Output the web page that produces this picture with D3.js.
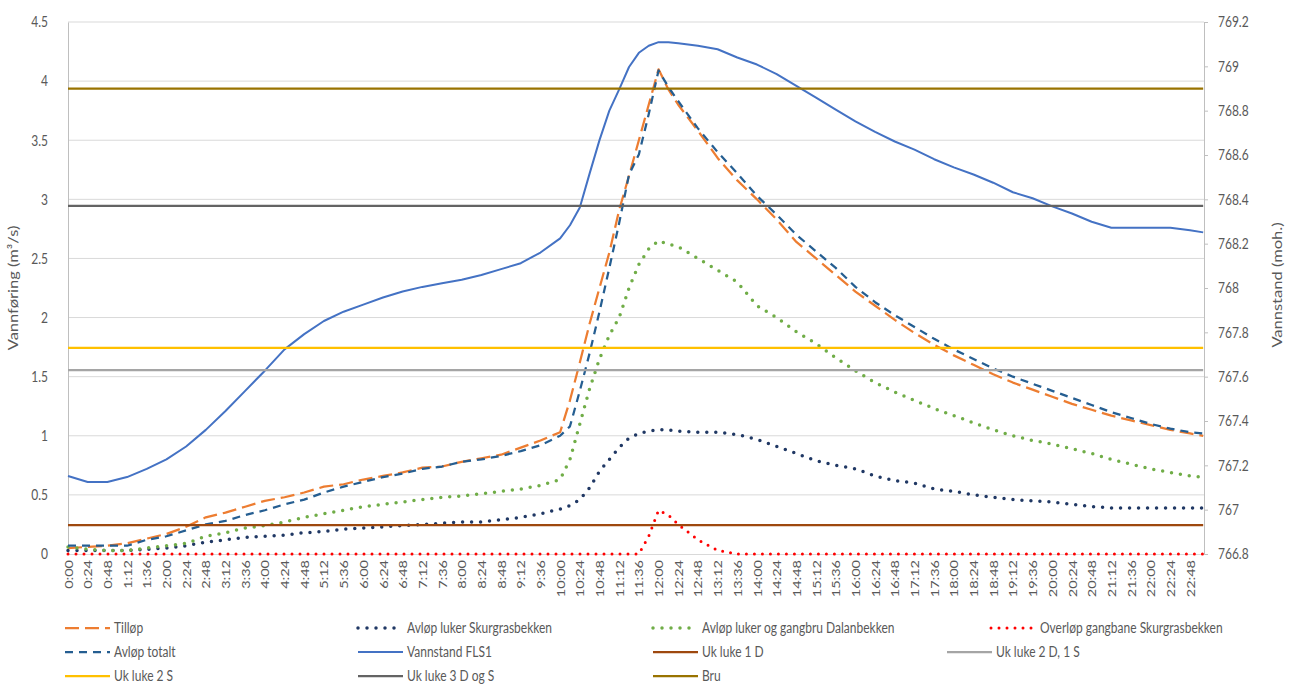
<!DOCTYPE html>
<html>
<head>
<meta charset="utf-8">
<script src="https://cdn.jsdelivr.net/npm/d3@7"></script>
<style>
  body { margin: 0; background: #fff; }
  text { font-family: Lato, "Open Sans", sans-serif; fill: #595959; }
</style>
</head>
<body>
<svg id="chart" width="1292" height="693"></svg>
<script>
// Sample times (H:MM); 12-minute steps around the flood peak, 24 minutes elsewhere
const times = ["0:00","0:24","0:48","1:12","1:36","2:00","2:24","2:48","3:12","3:36",
  "4:00","4:24","4:48","5:12","5:36","6:00","6:24","6:48","7:12","7:36","8:00","8:24",
  "8:48","9:12","9:36","10:00","10:12","10:24","10:36","10:48","11:00","11:12","11:24",
  "11:36","11:48","12:00","12:12","12:24","12:48","13:12","13:36","14:00","14:24","14:48",
  "15:12","15:36","16:00","16:24","16:48","17:12","17:36","18:00","18:24","18:48","19:12",
  "19:36","20:00","20:24","20:48","21:12","21:36","22:00","22:24","22:48","23:04"];

// Discharge series (m³/s)
const tillop = [0.05,0.06,0.07,0.09,0.13,0.17,0.23,0.31,0.35,0.40,
  0.45,0.48,0.52,0.57,0.59,0.63,0.66,0.69,0.73,0.74,0.78,0.81,
  0.84,0.90,0.96,1.03,1.30,1.62,1.95,2.25,2.55,2.91,3.20,
  3.50,3.80,4.10,3.93,3.80,3.58,3.35,3.16,3.00,2.83,2.64,
  2.50,2.36,2.22,2.10,1.98,1.87,1.77,1.68,1.60,1.52,1.45,
  1.39,1.33,1.27,1.22,1.17,1.13,1.09,1.05,1.02,1.00];

const avlopSkurgras = [0.03,0.03,0.03,0.03,0.04,0.05,0.07,0.10,0.12,0.14,
  0.15,0.16,0.18,0.19,0.21,0.22,0.23,0.24,0.25,0.26,0.27,0.27,
  0.29,0.31,0.34,0.38,0.41,0.46,0.56,0.70,0.80,0.90,0.98,
  1.02,1.04,1.05,1.05,1.04,1.03,1.03,1.01,0.97,0.91,0.85,
  0.79,0.75,0.72,0.66,0.62,0.60,0.55,0.53,0.50,0.48,0.46,
  0.45,0.44,0.42,0.40,0.39,0.39,0.39,0.39,0.39,0.39];

const avlopDalan = [0.06,0.04,0.03,0.03,0.05,0.07,0.09,0.15,0.18,0.22,
  0.24,0.27,0.31,0.34,0.37,0.40,0.42,0.44,0.46,0.48,0.49,0.51,
  0.53,0.55,0.58,0.63,0.80,1.10,1.40,1.65,1.85,2.00,2.25,
  2.45,2.58,2.65,2.62,2.60,2.50,2.40,2.30,2.10,2.00,1.88,
  1.78,1.66,1.55,1.45,1.37,1.30,1.23,1.17,1.11,1.05,1.00,
  0.96,0.93,0.89,0.85,0.80,0.76,0.72,0.69,0.66,0.65];

const overlopSkurgras = [0,0,0,0,0,0,0,0,0,0,
  0,0,0,0,0,0,0,0,0,0,0,0,
  0,0,0,0,0,0,0,0,0,0,0,
  0,0.15,0.37,0.33,0.25,0.12,0.03,0,0,0,0,
  0,0,0,0,0,0,0,0,0,0,0,
  0,0,0,0,0,0,0,0,0,0];

const avlopTotalt = [0.07,0.07,0.07,0.07,0.12,0.15,0.20,0.25,0.28,0.33,
  0.37,0.42,0.46,0.52,0.57,0.61,0.65,0.68,0.72,0.74,0.78,0.80,
  0.83,0.87,0.92,1.00,1.08,1.38,1.70,2.05,2.42,2.80,3.21,
  3.38,3.72,4.09,3.95,3.83,3.60,3.40,3.22,3.03,2.87,2.70,
  2.56,2.42,2.26,2.13,2.02,1.92,1.82,1.73,1.65,1.57,1.50,
  1.44,1.38,1.32,1.26,1.20,1.15,1.10,1.06,1.03,1.02];

// Water level at FLS1 (moh.)
const vannstandFLS1 = [767.152,767.125,767.125,767.147,767.184,767.227,767.285,767.360,767.445,767.536,
  767.627,767.723,767.792,767.851,767.893,767.925,767.957,767.984,768.005,768.021,768.037,768.059,
  768.085,768.112,768.160,768.224,768.283,768.363,768.517,768.667,768.800,768.896,768.997,
  769.061,769.093,769.109,769.109,769.104,769.093,769.077,769.040,769.008,768.965,768.912,
  768.859,768.805,768.752,768.704,768.661,768.624,768.581,768.544,768.512,768.475,768.432,
  768.405,768.368,768.336,768.299,768.272,768.272,768.272,768.272,768.261,768.251];

// Reference levels (moh.)
const ukLuke1D = 766.93;
const ukLuke2D1S = 767.63;
const ukLuke2S = 767.73;
const ukLuke3DogS = 768.37;
const bru = 768.90;

// Axis ticks
const leftTicks = [0,0.5,1,1.5,2,2.5,3,3.5,4,4.5];
const rightTicks = [766.8,767,767.2,767.4,767.6,767.8,768,768.2,768.4,768.6,768.8,769,769.2];
const xTickMinutes = d3.range(0, 1369, 24);

const toMin = s => { const [h, m] = s.split(":").map(Number); return h * 60 + m; };
const fmtTime = m => Math.floor(m / 60) + ":" + String(m % 60).padStart(2, "0");
const mins = times.map(toMin);

// Text is drawn slightly condensed (narrow glyphs, tall letterforms)
const SX = 0.8;

const svg = d3.select("#chart");
const plot = { left: 68, right: 1204, top: 22, bottom: 554 };

const x = d3.scaleLinear().domain([0, 1385]).range([plot.left, plot.right]);
const yL = d3.scaleLinear().domain([0, 4.5]).range([plot.bottom, plot.top]);
const yR = d3.scaleLinear().domain([766.8, 769.2]).range([plot.bottom, plot.top]);

// Horizontal gridlines
svg.append("g").selectAll("line").data(leftTicks.slice(1)).join("line")
  .attr("x1", plot.left).attr("x2", plot.right)
  .attr("y1", d => yL(d)).attr("y2", d => yL(d))
  .attr("stroke", "#d9d9d9").attr("stroke-width", 1);

// Left axis
const gL = svg.append("g").attr("transform", `translate(${plot.left},0)`)
  .call(d3.axisLeft(yL).tickValues(leftTicks).tickSize(0).tickPadding(20)
    .tickFormat(d => String(+d.toFixed(1))));
gL.select(".domain").attr("stroke", "#bfbfbf");
gL.selectAll("text").attr("font-size", 15).attr("fill", "#595959")
  .attr("x", -20 / SX).attr("transform", `scale(${SX},1)`);

// Right axis
const gR = svg.append("g").attr("transform", `translate(${plot.right},0)`)
  .call(d3.axisRight(yR).tickValues(rightTicks).tickSize(4).tickPadding(10)
    .tickFormat(d => String(+d.toFixed(1))));
gR.select(".domain").attr("stroke", "#bfbfbf");
gR.selectAll(".tick line").attr("stroke", "#bfbfbf");
gR.selectAll("text").attr("font-size", 15).attr("fill", "#595959")
  .attr("x", 14 / SX).attr("transform", `scale(${SX},1)`);

// Bottom axis: rotated time labels
const gX = svg.append("g").attr("transform", `translate(0,${plot.bottom})`)
  .call(d3.axisBottom(x).tickValues(xTickMinutes).tickSize(0).tickFormat(fmtTime));
gX.select(".domain").attr("stroke", "#d9d9d9");
gX.selectAll("text")
  .attr("font-size", 14.5).attr("fill", "#595959")
  .attr("text-anchor", "end")
  .attr("transform", `scale(${SX},1) rotate(-90)`)
  .attr("x", -6).attr("y", 0).attr("dy", "0.35em");

// Axis titles
svg.append("text").attr("transform", `translate(18,288) scale(${SX},1) rotate(-90)`)
  .attr("text-anchor", "middle").attr("font-size", 16.5).text("Vannføring (m³/s)");
svg.append("text").attr("transform", `translate(1282,285) scale(${SX},1) rotate(-90)`)
  .attr("text-anchor", "middle").attr("font-size", 16.5).text("Vannstand (moh.)");

// Series styling
const series = [
  { name: "Tilløp", values: tillop, axis: "L", color: "#ed7d31", width: 2.25, dash: "14 6", cap: "butt" },
  { name: "Avløp luker Skurgrasbekken", values: avlopSkurgras, axis: "L", color: "#203864", width: 3.5, dash: "0 9", cap: "round" },
  { name: "Avløp luker og gangbru Dalanbekken", values: avlopDalan, axis: "L", color: "#70ad47", width: 3.5, dash: "0 9", cap: "round" },
  { name: "Overløp gangbane Skurgrasbekken", values: overlopSkurgras, axis: "L", color: "#ff0000", width: 3, dash: "0 8", cap: "round" },
  { name: "Avløp totalt", values: avlopTotalt, axis: "L", color: "#255e91", width: 2.25, dash: "8 6", cap: "butt" },
  { name: "Vannstand FLS1", values: vannstandFLS1, axis: "R", color: "#4472c4", width: 2, dash: null, cap: "butt" },
  { name: "Uk luke 1 D", values: mins.map(() => ukLuke1D), axis: "R", color: "#9e480e", width: 2.25, dash: null, cap: "butt" },
  { name: "Uk luke 2 D, 1 S", values: mins.map(() => ukLuke2D1S), axis: "R", color: "#a5a5a5", width: 2.25, dash: null, cap: "butt" },
  { name: "Uk luke 2 S", values: mins.map(() => ukLuke2S), axis: "R", color: "#ffc000", width: 2.25, dash: null, cap: "butt" },
  { name: "Uk luke 3 D og S", values: mins.map(() => ukLuke3DogS), axis: "R", color: "#636363", width: 2.25, dash: null, cap: "butt" },
  { name: "Bru", values: mins.map(() => bru), axis: "R", color: "#997300", width: 2.25, dash: null, cap: "butt" }
];

const gLines = svg.append("g");
series.forEach(s => {
  const ys = s.axis === "L" ? yL : yR;
  const line = d3.line().x((d, i) => x(mins[i])).y(d => ys(d));
  gLines.append("path")
    .datum(s.values)
    .attr("d", line)
    .attr("fill", "none")
    .attr("stroke", s.color)
    .attr("stroke-width", s.width)
    .attr("stroke-linecap", s.cap)
    .attr("stroke-linejoin", "round")
    .attr("stroke-dasharray", s.dash);
});

// Legend
const legendPos = [
  [62, 628], [355, 628], [650, 628], [988, 628],
  [62, 652], [355, 652], [650, 652], [944, 652],
  [62, 676], [355, 676], [650, 676]
];
const gLeg = svg.append("g");
series.forEach((s, i) => {
  const [lx, ly] = legendPos[i];
  gLeg.append("line")
    .attr("x1", lx + 3).attr("x2", lx + 48).attr("y1", ly).attr("y2", ly)
    .attr("stroke", s.color).attr("stroke-width", s.width)
    .attr("stroke-linecap", s.cap).attr("stroke-dasharray", s.dash);
  gLeg.append("text")
    .attr("transform", `translate(${lx + 52},${ly}) scale(${SX},1)`)
    .attr("dy", "0.35em")
    .attr("font-size", 15).attr("fill", "#404040").text(s.name);
});
</script>
</body>
</html>
